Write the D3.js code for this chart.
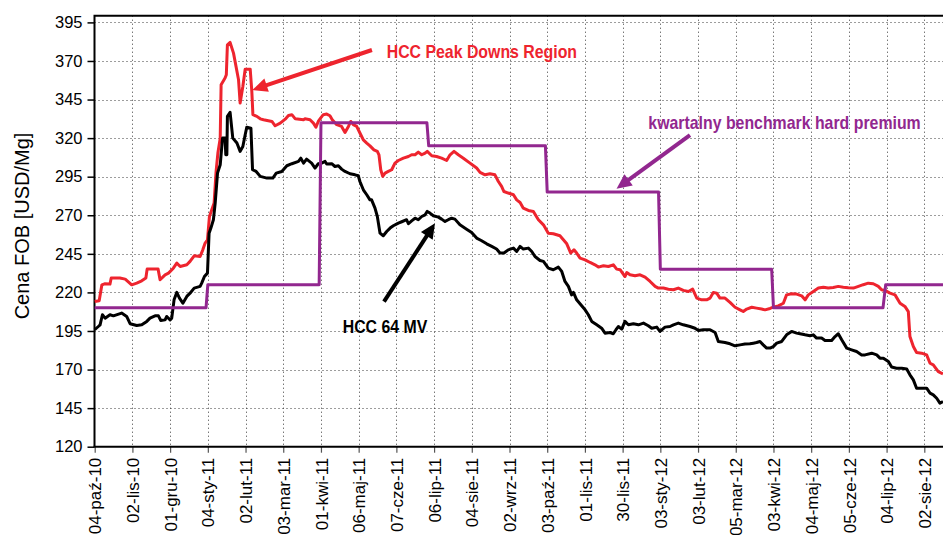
<!DOCTYPE html>
<html>
<head>
<meta charset="utf-8">
<script src="https://cdn.jsdelivr.net/npm/d3@7"></script>
<style>
body { margin: 0; background: #fff; }
svg { display: block; font-family: "Liberation Sans", Arial, sans-serif; }
</style>
</head>
<body>
<svg id="chart" width="943" height="535"></svg>
<script>
// category labels, one every 21 trading days
const tickLabels = ["04-paź-10", "02-lis-10", "01-gru-10", "04-sty-11", "02-lut-11", "03-mar-11",
    "01-kwi-11", "06-maj-11", "07-cze-11", "06-lip-11", "04-sie-11", "02-wrz-11", "03-paź-11",
    "01-lis-11", "30-lis-11", "03-sty-12", "03-lut-12", "05-mar-12", "03-kwi-12", "04-maj-12",
    "05-cze-12", "04-lip-12", "02-sie-12"]
const yTicks = [120, 145, 170, 195, 220, 245, 270, 295, 320, 345, 370, 395]

// [trading day index, USD/Mg]
const peakDowns = [[0,214.1],[2.5,214.6],[4,224.9],[5.5,225.6],[8.5,225.4],[9.2,229.3],[14,229.3],[17,228.6],[20.6,224.9],[23.4,226],[26.2,227.5],[28.5,229.3],[29.2,235.1],[35.3,235.1],[36.4,228.2],[39.2,231.4],[41.1,232.5],[43.8,235.7],[45.7,239],[47.6,236.8],[51.3,237.9],[53.1,240.1],[55.4,243.7],[58.7,243.3],[60.2,247.6],[61.5,252],[62.8,254.1],[63.9,269.2],[66.5,277.9],[67.6,298.4],[68.6,310.3],[69.9,320],[70.4,354.6],[72.6,358.9],[73.3,361.1],[73.9,380.5],[75.4,382],[77.3,375.1],[80.1,357.8],[81,342.7],[82.5,353.5],[83.8,364.7],[86.6,364.7],[87.5,350.3],[88.1,335.2],[90.3,334.1],[92.2,332.5],[94,331.9],[98.7,330.8],[100.5,328],[103.3,329.7],[106.1,332.3],[107.9,334.7],[109.8,335.2],[111.7,332.5],[116.3,331.9],
    [117.1,332.5],[119.9,331.9],[121.8,329.7],[123.2,327.1],[124.5,330.8],[125.8,333],[127.3,335.2],[129.2,335.6],[131,334.5],[132.3,331.9],[134.8,328.7],[137.5,327.6],[139.4,323.7],[141.3,327.6],[142.6,330.8],[144,328.7],[145.9,327.6],[147.7,323.3],[149.6,318.9],[151.5,316.8],[153.3,315],[155.5,312.4],[157.4,311.4],[158.3,309.2],[159.3,299.5],[160.4,295.2],[161.7,297.3],[163.5,298.4],[165.4,299.5],[167.2,303.8],[169.1,305.5],[171.9,307],[174.7,308.1],[176.5,309.2],[178.4,309.2],[180.2,310.9],[182.1,309.2],[184,310.3],[185.2,311.4],[187.7,308.6],[190.4,308.1],[193.2,307],[196,305.5],[197.9,309.2],[200.1,311.4],[202.5,309.2],[205.3,307],[209,303.8],[212.7,300.6],[214.6,297.8],[217.4,296.2],[220.1,296.9],[222.9,296.2],[224.8,291.9],[226.6,288.7],[227.9,285.4],[230.3,284.4],
    [233.2,283.3],[235,280],[236.9,278.3],[238.7,274.6],[241.5,273.1],[244.3,272.5],[247.1,267.1],[249.9,263.8],[252.6,258.4],[255.4,258],[259.1,256.7],[261,254.1],[262.9,251.5],[265.1,245.5],[266.9,247.6],[268.4,245.5],[270.3,242.2],[273.1,241.1],[275.9,239.4],[278.6,237.9],[280.5,236.4],[283.3,237.3],[286.1,236.8],[288.8,237.9],[290.7,235.1],[292.6,234.7],[295.3,230.3],[296.3,232.9],[298.1,231.4],[300.9,230.8],[303.7,231.4],[306.5,229.9],[309.3,227.1],[312.1,223.9],[313.9,222.8],[316.7,222.8],[319.5,222.1],[322.3,221.7],[325,222.8],[327.8,221.3],[330.6,220.6],[333,222.1],[335.3,216.3],[338,215.2],[340.8,215.2],[342.7,216.3],[344.5,220],[346.4,219.5],[348.2,216.3],[351,216.3],
    [353.8,213.5],[356.6,210.4],[359.4,208.7],[361.2,207.6],[363.1,209.2],[365.9,210.4],[368.6,209.8],[371.4,209.2],[373.3,208.7],[376.1,209.6],[377.9,210.4],[380.7,211.3],[383.5,213],[385.3,218.4],[388.1,219.1],[390.9,218.9],[393.7,217.8],[395.6,215.2],[397.4,218.4],[400.2,220.6],[403,222.8],[405.8,223.4],[408.5,222.8],[411.3,223.2],[414.1,223.9],[416.9,223.4],[419.7,223],[422.5,222.8],[425.3,223.9],[428,225],[430.8,226],[433.6,225.6],[436.4,223.9],[438.2,221.7],[440.1,221.3],[442.9,219.5],[445.7,218.4],[448.5,213],[451.2,210.9],[453.1,207.6],[454,191.4],[455.9,184.9],[457.7,181],[460.5,180.6],[463.3,179.5],[465.2,174.1],[467,173.1],[469.8,168.7],[472.4,167.2]]

const hcc64 = [[0,195.8],[2,197.9],[3,199],[4.3,205.5],[5.8,203.3],[8.5,205.5],[10.4,204.8],[15,206.6],[17.8,204.4],[19.7,199.7],[23.4,198.6],[26.2,199],[29,201.2],[30.8,203.3],[33.6,204.8],[35.5,204.8],[36.8,201.8],[39.2,202.2],[40.1,204.4],[42,202.2],[42.9,203.3],[44.2,215.2],[45.7,220],[47.2,216.3],[49.1,213],[51.3,217.4],[53.1,219.5],[55.4,222.8],[58.7,223.9],[59.6,226],[61.1,230.3],[62.8,232.5],[63.7,258.4],[64.7,261.7],[66.1,267.1],[67.1,277.9],[68.4,297.3],[69.9,302.7],[71.2,320],[72.6,320],[73,309.2],[73.6,309.2],[73.9,334.1],[75.4,336.7],[76.9,320],[79.2,316.8],[81,311.4],[82.5,314.6],[83.8,322.2],[84.7,327.1],[87,326.5],[87.9,299.5],[89.9,298.4],[92.2,295.2],[95.9,294.1],[99.2,294.1],[101.1,297.3],[104.2,298.4],[107,302.1],[109.8,303.4],[113.5,304.9],[114.8,307],[116.3,303.8],
    [118,306.4],[120.8,303.8],[122.7,300.6],[124.5,303.4],[126.4,303.8],[128.3,304.9],[129.2,303.2],[132,303.4],[133.8,301.6],[135.7,302.1],[137.5,299.9],[139.4,298.4],[142.2,296.9],[145,296.2],[146.8,295.6],[147.7,291.9],[149.6,286.5],[151.5,283.3],[153.3,280],[154.2,280],[156.1,274.6],[157.4,269.2],[158.9,258.4],[160.7,256.7],[162.6,259.5],[164.5,261.7],[166.3,263.2],[169.1,264.9],[171,265.8],[173.7,267.1],[174.7,264.5],[176.5,266.4],[178.4,268.1],[180.2,267.1],[182.1,269.2],[184,270.3],[185.2,272.5],[186.7,271.4],[188.6,269.7],[191.4,268.8],[193.2,267.5],[195.1,266],[196.9,267.1],[198.8,268.1],[200.6,267.5],[203.4,263.8],[207.1,261],[209.9,258.9],[212.7,255.2],[215.5,253.5],[218.3,251.5],[221.1,249.8],[223.8,248.1],[225.7,245.5],[227.9,245.5],[230.3,247.6],
    [233.2,248.7],[235,246.5],[236.9,249.8],[238.7,248.1],[241.5,248.7],[243.4,246.5],[245.2,243.3],[248,240.7],[249.9,240.1],[252.6,235.7],[255.4,234.7],[258.2,236.4],[260.1,233.6],[261.9,227.1],[263.8,223.9],[265.6,218.4],[266.6,220],[268.4,215.2],[271.2,211.3],[273.1,208.7],[274.9,205.5],[276.8,201.2],[279.6,199],[282.3,196.8],[284.2,193.6],[287,194],[288.8,193.2],[290.3,195.8],[291.6,197.9],[293.5,196.2],[295.3,201.2],[297.2,199],[300,199.7],[302.8,199],[305.6,200.1],[308.3,198.4],[310.2,196.8],[313,197.5],[314.8,194.7],[317.6,197.5],[320.4,197.9],[322.3,199],[325,200.1],[327.8,199],[331.5,197.9],[334.3,196.8],[336.2,195.3],[338.9,195.8],[342.7,195.8],[345.5,194],[347.3,188.2],[351,187.5],
    [353.8,186.7],[356.6,185.4],[359.4,186],[362.1,186.5],[364.9,186.7],[366.8,187.1],[368.6,187.5],[370.5,188.2],[372.3,186],[374.2,183.9],[376.1,183.9],[377.9,184.9],[379.8,187.1],[382.6,188.2],[385.3,192.5],[388.1,194.7],[390.9,193.6],[392.8,193.2],[395.6,192.5],[398.3,191.9],[400.2,192.5],[402,190.4],[404.8,190.4],[406.7,188.8],[410.4,188.8],[412.3,191.4],[414.1,193.2],[416,189.3],[418.8,183.9],[421.5,182.8],[424.3,181.7],[427.1,179.5],[429,179.5],[432.7,180.6],[435.5,179.5],[437.3,177.4],[439.2,177.4],[442,175.2],[443.8,171.6],[446.6,170.9],[449.4,170.9],[452.2,170.3],[454,166.6],[455.9,163.3],[457.7,157.9],[460.5,157.9],[463.3,157.9],[465.2,154.7],[467,153.6],[468.9,151.4],[470.7,148.2],[472.4,149.3]]

const benchmark = [[0,210],[62,210],[63,225],[125,225],[126,330],[185,330],[186,315],[251,315],[252,285],[314,285],[315,235],[377,235],[378,210],[439,210],[440.5,225],[472.4,225]]

// annotations: text anchor and arrow tail -> tip, in data coordinates
const notes = [
    {text: "HCC Peak Downs Region", color: "#ee242e", at: [162.6, 372.2], from: [154.4, 377.1], to: [87.8, 351.2]},
    {text: "kwartalny benchmark hard premium", color: "#92278f", at: [308.3, 325.7], from: [331.5, 322], to: [290.6, 287.2]},
    {text: "HCC 64 MV", color: "#000", at: [138.1, 194], from: [161.1, 214], to: [189.5, 264.8]}
]

const svg = d3.select("#chart")
const plot = {left: 94.5, right: 943, top: 15.7, bottom: 446.7}

const xScale = d3.scaleLinear().domain([0, 462]).range([94.7, 924.3])
const yScale = d3.scaleLinear().domain([120, 395]).range([446.7, 22.4])
const tickIdx = tickLabels.map((d, i) => i * 21)

// dotted grid
svg.append("g").selectAll("line")
    .data(yTicks.slice(1))
    .join("line")
        .attr("x1", plot.left).attr("x2", plot.right)
        .attr("y1", d => Math.round(yScale(d)) + 0.5).attr("y2", d => Math.round(yScale(d)) + 0.5)
        .attr("stroke", "#3a3a3a").attr("stroke-dasharray", "1,3")
svg.append("g").selectAll("line")
    .data(tickIdx.slice(1))
    .join("line")
        .attr("x1", d => Math.round(xScale(d)) + 0.5).attr("x2", d => Math.round(xScale(d)) + 0.5)
        .attr("y1", plot.top).attr("y2", plot.bottom)
        .attr("stroke", "#3a3a3a").attr("stroke-dasharray", "1,3")

// axes
var y_axis = svg.append("g")
    .attr("transform", "translate(" + plot.left + ",0)")
    .call(d3.axisLeft(yScale).tickValues(yTicks).tickSize(7).tickPadding(5))
y_axis.select(".domain").remove()
y_axis.selectAll("line").attr("stroke-width", 1.5)
y_axis.selectAll("text").attr("font-size", 16.5).attr("fill", "#000").style("font-family", "inherit")

var x_axis = svg.append("g")
    .attr("transform", "translate(0," + plot.bottom + ")")
    .call(d3.axisBottom(xScale).tickValues(tickIdx).tickFormat((d, i) => tickLabels[i]).tickSize(6))
x_axis.select(".domain").remove()
x_axis.selectAll("line").attr("stroke-width", 1.2).attr("stroke", "#555")
x_axis.selectAll("text")
    .attr("font-size", 17).attr("fill", "#000").style("font-family", "inherit")
    .attr("text-anchor", "end")
    .attr("transform", "rotate(-90)")
    .attr("x", -11).attr("y", 0).attr("dy", "0.36em")

// frame
svg.append("path")
    .attr("d", "M" + plot.left + "," + plot.bottom + "V" + plot.top + "H" + plot.right)
    .attr("fill", "none").attr("stroke", "#000").attr("stroke-width", 2)
svg.append("line")
    .attr("x1", plot.left - 1).attr("x2", plot.right)
    .attr("y1", plot.bottom).attr("y2", plot.bottom)
    .attr("stroke", "#000").attr("stroke-width", 2)

svg.append("text")
    .attr("transform", "translate(29,226) rotate(-90)")
    .attr("text-anchor", "middle")
    .attr("font-size", 20)
    .text("Cena FOB [USD/Mg]")

// series
var line = d3.line()
    .x(d => xScale(d[0]))
    .y(d => yScale(d[1]))

const series = [[peakDowns, "#ee242e"], [hcc64, "#000"], [benchmark, "#92278f"]]
for (const [data, color] of series) {
    svg.append("path")
        .datum(data)
        .attr("d", line)
        .attr("fill", "none")
        .attr("stroke", color)
        .attr("stroke-width", 3)
        .attr("stroke-linejoin", "round")
}

// annotations with arrows
for (const n of notes) {
    var x0 = xScale(n.from[0]), y0 = yScale(n.from[1])
    var x1 = xScale(n.to[0]), y1 = yScale(n.to[1])
    var ang = Math.atan2(y1 - y0, x1 - x0)
    var head = 15, half = 7
    var bx = x1 - head * Math.cos(ang), by = y1 - head * Math.sin(ang)
    svg.append("line")
        .attr("x1", x0).attr("y1", y0)
        .attr("x2", bx + 3 * Math.cos(ang)).attr("y2", by + 3 * Math.sin(ang))
        .attr("stroke", n.color).attr("stroke-width", 4)
    svg.append("path")
        .attr("d", "M" + x1 + "," + y1 +
            "L" + (bx + half * Math.sin(ang)) + "," + (by - half * Math.cos(ang)) +
            "L" + (bx - half * Math.sin(ang)) + "," + (by + half * Math.cos(ang)) + "Z")
        .attr("fill", n.color)
    // narrow bold face: squeeze the glyphs horizontally
    svg.append("text")
        .attr("transform", "translate(" + xScale(n.at[0]) + "," + yScale(n.at[1]) + ") scale(0.835,1)")
        .attr("font-size", 19).attr("font-weight", "bold")
        .attr("fill", n.color)
        .text(n.text)
}
</script>
</body>
</html>
